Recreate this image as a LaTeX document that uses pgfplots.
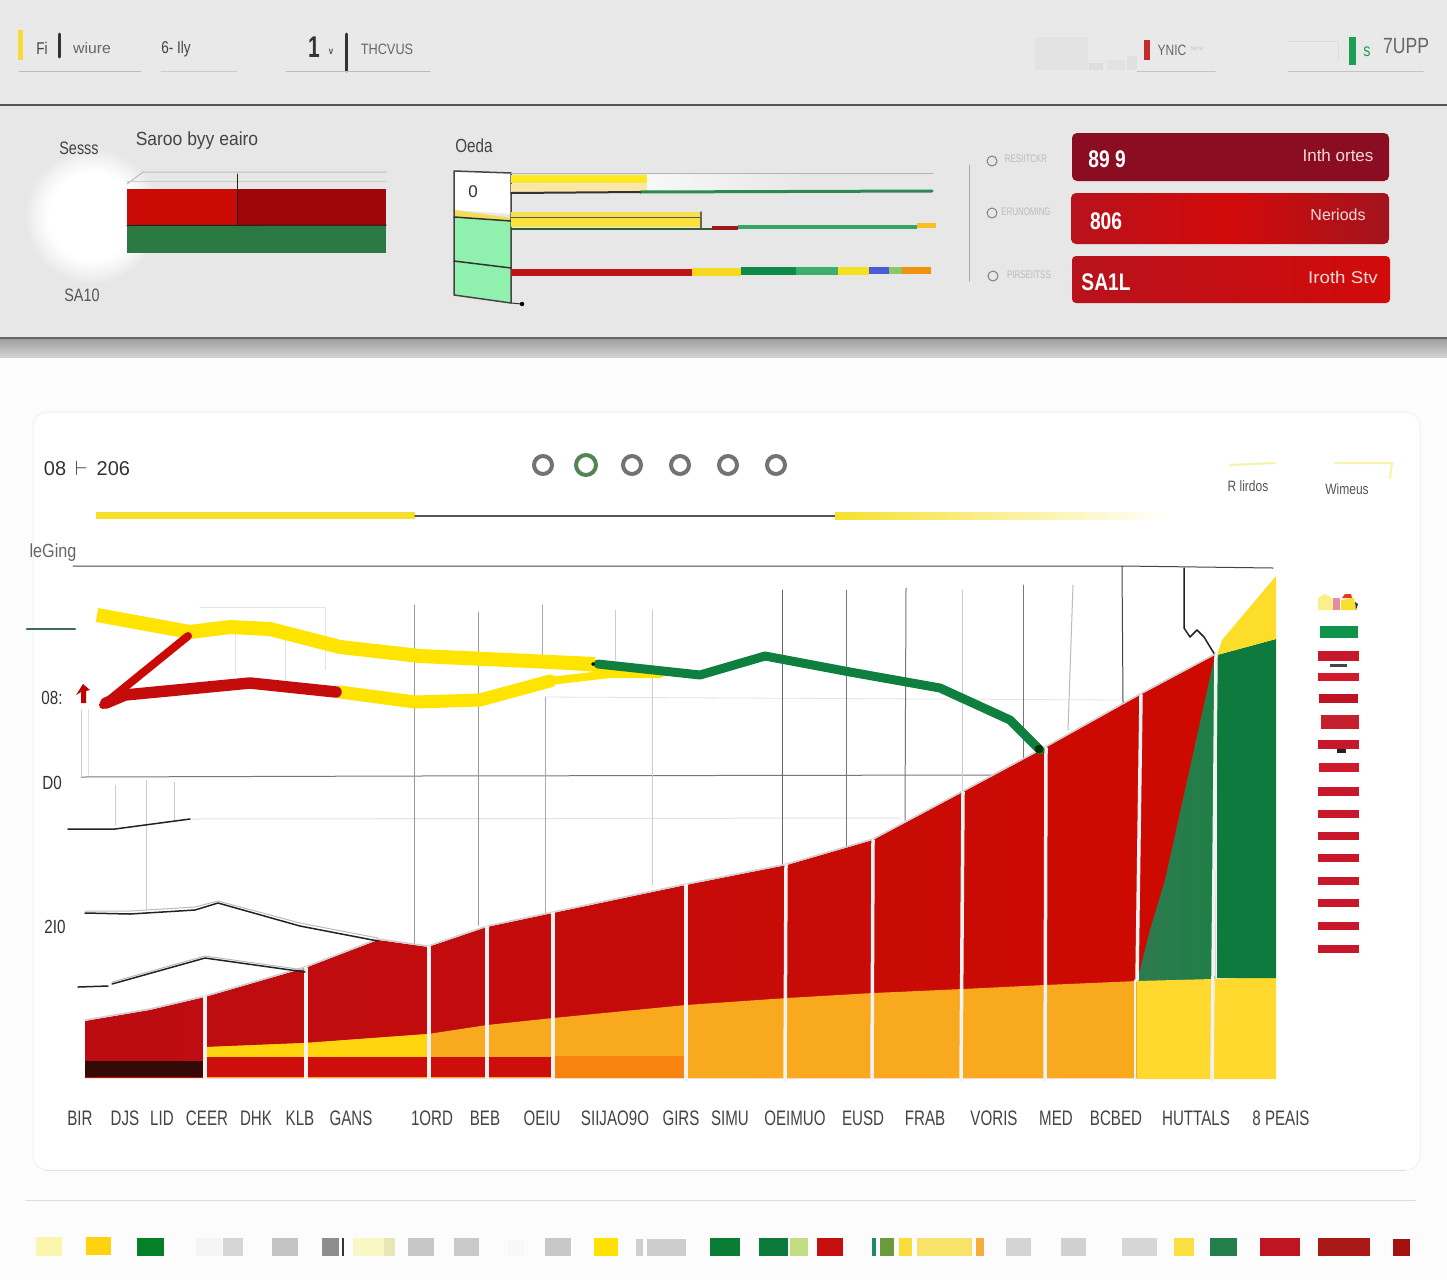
\documentclass[border=0pt]{standalone}
\usepackage{fontspec}
\setmainfont{Liberation Sans}
\usepackage{graphicx}
\usepackage{pgfplots}
\pgfplotsset{compat=1.18}
\definecolor{glowc}{HTML}{E7E7E7}
\pgfdeclareradialshading{glowsh}{\pgfpointorigin}{color(0bp)=(white);color(16bp)=(white);color(21bp)=(white!50!glowc);color(25bp)=(glowc);color(50bp)=(glowc)}
\newcommand{\R}[5]{\definecolor{c#5}{HTML}{#5}\addplot[fill=c#5,draw=none] coordinates {(#1,#2)(#3,#2)(#3,#4)(#1,#4)} --cycle;}
\newcommand{\RG}[6]{\definecolor{l#5}{HTML}{#5}\definecolor{r#6}{HTML}{#6}\addplot[left color=l#5,right color=r#6,draw=none] coordinates {(#1,#2)(#3,#2)(#3,#4)(#1,#4)} --cycle;}
\newcommand{\PG}[2]{\definecolor{c#1}{HTML}{#1}\addplot[fill=c#1,draw=none] coordinates {#2} --cycle;}
\newcommand{\LN}[3]{\definecolor{c#2}{HTML}{#2}\addplot[draw=c#2,line width=#1pt,line cap=round,line join=round] coordinates {#3};}
\newcommand{\T}[6][0.8]{\definecolor{t#4}{HTML}{#4}\node[text=t#4,inner sep=0pt] at (axis cs:#2,#3) {\scalebox{#1}[1]{\fontsize{#5}{#5}\selectfont #6}};}
\begin{document}
\begin{tikzpicture}
\begin{axis}[hide axis,scale only axis,width=1447pt,height=1280pt,
  xmin=0,xmax=1447,ymin=0,ymax=1280,y dir=reverse]
% page and panels
\R{0}{0}{1447}{1280}{FCFCFC}
\R{0}{0}{1447}{105}{E9E9E9}
\R{0}{105}{1447}{338}{E7E7E7}
\definecolor{shA}{HTML}{A0A0A0}\definecolor{shB}{HTML}{D2D2D2}
\addplot[top color=shA,bottom color=shB,draw=none] coordinates {(0,339)(1447,339)(1447,357)(0,357)} --cycle;
\LN{2}{555555}{(0,105)(1447,105)}
\LN{2}{666666}{(0,338)(1447,338)}
% top strip
\R{18}{30}{23}{60}{F7D93A}
\LN{3}{333333}{(59.5,34)(59.5,57)}
\LN{3}{333333}{(346.5,34)(346.5,71)}
\LN{1}{BDBDBD}{(19,71)(141,71)}
\LN{1}{CCCCCC}{(161,71)(237,71)}
\LN{1}{BDBDBD}{(286,71)(430,71)}
\T{42}{48}{444444}{17}{Fi}
\T[1.05]{92}{48}{666666}{15}{wiure}
\T{176}{49}{444444}{17}{6- Ily}
\T[0.7]{314}{47}{333333}{30}{\textbf{1}}
\T{331}{52}{555555}{10}{\textbf{v}}
\T[0.85]{387}{49}{666666}{15}{THCVUS}
\R{1035}{37}{1088}{70}{E3E3E3}
\R{1089}{63}{1103}{70}{DEDEDE}
\R{1107}{60}{1125}{70}{E2E2E2}
\R{1127}{56}{1137}{70}{E0E0E0}
\R{1144}{40}{1150}{60}{C62A2A}
\T{1172}{50}{666666}{15}{YNIC}
\T{1197}{48}{C4C4C4}{6}{Serrie}
\LN{1}{C4C4C4}{(1137,71)(1215,71)}
\LN{1}{DDDDDD}{(1288,41)(1338,41)(1338,60)}
\LN{1}{C4C4C4}{(1288,71)(1423,71)}
\R{1349}{37}{1356}{65}{1E9E55}
\T{1367}{52}{1E9E55}{18}{s}
\T{1406}{46}{666666}{22}{7UPP}
% mini chart 1
\shade[shading=glowsh] (axis cs:92,216) circle[radius=68pt];
\LN{1}{BBBBBB}{(127,184)(143,172)(386,172)}
\LN{1}{CCCCCC}{(127,181)(386,181)}
\R{127}{189}{237}{226}{C90A05}
\R{237}{189}{386}{226}{9E0408}
\R{127}{226}{386}{253}{2B7A44}
\LN{1}{222222}{(237,174)(237,225)}
\LN{1}{222222}{(127,225.5)(386,225)}
\T{79}{148}{444444}{18}{Sesss}
\T[0.92]{197}{141}{444444}{19}{Saroo byy eairo}
\T{82}{295}{555555}{18}{SA10}
% mini chart 2
\T{474}{146}{444444}{19}{Oeda}
\PG{FFFFFF}{(454,171)(511,173)(511,214)(454,210)}
\PG{F4DC56}{(454,210)(511,218)(511,221)(454,217)}
\PG{90F0AE}{(454,217)(511,221)(511,303)(454,295)}
\LN{1.5}{444444}{(454,295)(454,171)(511,173)(511,303)(454,295)}
\LN{1.5}{333333}{(454,217)(511,221)}
\LN{1.5}{333333}{(454,261)(511,268)}
\LN{1}{333333}{(511,303)(522,304)}
\addplot[only marks,mark=*,mark size=2pt,black] coordinates {(522,304)};
\T[1]{473}{192}{333333}{17}{0}
\RG{647}{174}{800}{191}{F8F8F8}{E8E8E8}
\R{511}{175}{647}{183}{FFE81E}
\R{511}{184}{647}{192}{FBE6A6}
\LN{1}{B5B5B5}{(511,173)(933,173)}
\LN{3}{2B8A4F}{(640,192)(932,191)}
\LN{2}{333333}{(511,193)(640,192)}
\R{511}{212}{701}{217}{F7E14A}
\R{511}{218}{700}{227}{FBE23A}
\LN{1}{555555}{(511,217.5)(700,217.5)}
\LN{1.5}{666666}{(701,212)(701,228)}
\LN{2}{2F5F3F}{(511,228.5)(712,228.5)}
\R{712}{225.5}{738}{230}{9A1B1B}
\R{738}{224.5}{917}{229}{37A565}
\R{917}{223}{936}{228}{F7C21E}
\R{511}{269}{692}{276}{BB1414}
\R{692}{268}{741}{276}{F5D921}
\R{741}{267}{796}{275}{0E8A4A}
\R{796}{267}{838}{275}{3DAE6B}
\R{838}{267}{869}{275}{F5E11E}
\R{869}{267}{889}{274}{4C5BD6}
\R{889}{267}{902}{274}{8BC86B}
\R{902}{267}{931}{274}{F0920E}
% KPI list
\LN{1}{AAAAAA}{(969,165)(969,281)}
\addplot[only marks,mark=o,mark size=5pt,mark options={draw=gray,line width=1pt}] coordinates {(992,161)(992,213)(993,276)};
\T[0.72]{1026}{159}{BBBBBB}{11}{RESIITCKR}
\T[0.72]{1026}{212}{BBBBBB}{11}{ERUNOMING}
\T[0.72]{1029}{275}{BBBBBB}{11}{PIRSEIITSS}
\definecolor{ca}{HTML}{8A0D22}\definecolor{cb}{HTML}{B8121C}\definecolor{cc}{HTML}{D20A0A}\definecolor{cd}{HTML}{A3141E}
\addplot[fill=ca,draw=none,rounded corners=5pt] coordinates {(1072,133)(1389,133)(1389,181)(1072,181)} --cycle;
\addplot[left color=cb,right color=cd,middle color=cc,draw=none,rounded corners=5pt] coordinates {(1071,193)(1389,193)(1389,244)(1071,244)} --cycle;
\addplot[left color=cb,right color=cc,draw=none,rounded corners=4pt] coordinates {(1072,256)(1390,256)(1390,303)(1072,303)} --cycle;
\T{1107}{159}{FFFFFF}{24}{\textbf{89 9}}
\T{1106}{221}{FFFFFF}{24}{\textbf{806}}
\T{1106}{282}{FFFFFF}{24}{\textbf{SA1L}}
\T[1]{1338}{155}{F3D9D9}{17}{Inth ortes}
\T[1]{1338}{215}{F3D9D9}{16}{Neriods}
\T[1.1]{1343}{277}{F3D9D9}{17}{Iroth Stv}
% main card
\definecolor{cardb}{HTML}{F1F1F1}
\addplot[draw=cardb,line width=1pt,fill=white,rounded corners=14pt] coordinates {(33,412)(1420,412)(1420,1170)(33,1170)} --cycle;
\LN{1}{E2E2E2}{(45,1170)(1405,1170)}
\LN{1}{DDDDDD}{(26,1200)(1415,1200)}
\T[1]{87}{468}{333333}{20}{08 \,$\vdash$\, 206}
\addplot[only marks,mark=o,mark size=9pt,mark options={draw=black!55,line width=4pt}] coordinates {(543,465)(632,465)(680,465)(728,465)(776,465)};
\addplot[only marks,mark=o,mark size=10pt,mark options={draw=black!45!green!35!gray,line width=4pt}] coordinates {(586,465)};
\LN{2}{F7F3A8}{(1230,465)(1275,463)}
\LN{2}{F7F3A8}{(1335,463)(1392,463)(1390,478)}
\T{1248}{486}{555555}{15}{R lirdos}
\T{1347}{489}{555555}{15}{Wimeus}
\R{96}{511.5}{415}{518.5}{F6E02E}
\LN{1.5}{555555}{(415,516)(835,516)}
\definecolor{ya}{HTML}{F6E02E}
\addplot[left color=ya,right color=white,draw=none] coordinates {(835,512)(1170,512)(1170,519)(835,519)} --cycle;
\T[0.85]{53}{553}{666666}{19}{leGing}
\T{52}{698}{333333}{19}{08:}
\T{52}{783}{333333}{19}{D0}
\T{55}{927}{333333}{19}{2I0}
% gridlines
\LN{1}{444444}{(73,566)(1122,566)(1273,568)}
\LN{1}{777777}{(81,777)(414,776)(1000,775)}
\LN{1}{E2E2E2}{(190,819)(900,818)}
\LN{0.8}{E4E4E4}{(545,697)(1120,700)}
\LN{0.8}{E4E4E4}{(200,607)(325,607)(325,670)}
\LN{0.8}{CCCCCC}{(81,710)(81,777)}
\LN{0.8}{DDDDDD}{(88,710)(88,775)}
\LN{0.8}{CCCCCC}{(115,785)(115,825)}
\LN{0.8}{CCCCCC}{(146,780)(146,910)}
\LN{0.8}{CCCCCC}{(174,782)(174,820)}
\LN{0.8}{E2E2E2}{(235,630)(235,675)}
\LN{0.8}{E2E2E2}{(285,635)(285,680)}
\LN{1}{999999}{(414,605)(414,945)}
\LN{1}{999999}{(478,612)(478,925)}
\LN{1}{AAAAAA}{(542,605)(542,665)}
\LN{1}{AAAAAA}{(545,697)(545,915)}
\LN{1}{CCCCCC}{(615,610)(615,660)}
\LN{1}{CCCCCC}{(652,610)(652,885)}
\LN{1}{666666}{(782,590)(782,865)}
\LN{1}{777777}{(846,590)(846,850)}
\LN{1}{777777}{(906,588)(905,820)}
\LN{1}{CCCCCC}{(962,590)(962,795)}
\LN{1}{777777}{(1023,585)(1023,770)}
\LN{1}{BBBBBB}{(1073,585)(1068,730)}
\LN{1}{444444}{(1122,566)(1123,703)}
\LN{1.5}{222222}{(1184,568)(1184,628)(1190,637)(1197,630)(1204,637)(1215,655)}
% stacked area: upper red
\definecolor{rda}{HTML}{BC0C12}\definecolor{rdb}{HTML}{CE0A00}
\addplot[left color=rda,right color=rdb,draw=none] coordinates {(85,1021)(150,1010)(205,997)(305,968)(378,940)(428,947)(487,927)(553,913)(686,885)(787,865)(873,840)(963,792)(1045,748)(1140,695)(1215,655)(1215,1078)(85,1078)} --cycle;
\definecolor{ga}{HTML}{1F7F46}\definecolor{gb}{HTML}{2F7A50}
\addplot[left color=gb,right color=ga,draw=none] coordinates {(1137,981)(1150,930)(1165,880)(1215,655)(1215,981)} --cycle;
% halo above the red top edge
\LN{1.5}{CFCFCF}{(85,1020)(150,1009)(205,996)(305,967)(378,939)(428,946)(487,926)(553,912)(686,884)(787,864)(873,839)(963,791)(1045,747)(1140,694)(1215,654)}
% amber, yellow, bottom bands
\PG{F9A91E}{(207,1047)(305,1043)(428,1034)(487,1025)(553,1018)(686,1005)(787,998)(873,993)(963,989)(1045,985)(1137,981)(1137,1078)(207,1078)}
\PG{FFD50F}{(207,1047)(305,1043)(428,1034)(428,1057)(207,1057)}
\PG{FFD92E}{(1137,981)(1213,979)(1276,977)(1276,1079)(1137,1079)}
\R{85}{1061}{205}{1077}{330A06}
\R{207}{1057}{553}{1077}{CD0E0A}
\R{553}{1056}{686}{1078}{F8840F}
% last column
\PG{0F7A3E}{(1217,655)(1276,639)(1276,978)(1217,978)}
\PG{FBDD2A}{(1217,655)(1222,640)(1276,576)(1276,639)}
% separators
\LN{3.5}{F2F2F2}{(205,997)(205,1078)}
\LN{3.5}{F2F2F2}{(306,968)(306,1078)}
\LN{3.5}{F2F2F2}{(429,947)(429,1078)}
\LN{3.5}{F2F2F2}{(487,927)(487,1078)}
\LN{3.5}{F2F2F2}{(553,913)(553,1078)}
\LN{3.5}{F2F2F2}{(686,885)(686,1080)}
\LN{3.5}{F2F2F2}{(786,865)(785,1080)}
\LN{3.5}{F2F2F2}{(873,840)(872,1080)}
\LN{3.5}{F2F2F2}{(963,792)(961,1080)}
\LN{3.5}{F2F2F2}{(1046,748)(1045,1080)}
\LN{3.5}{F2F2F2}{(1141,695)(1137,980)}
\LN{2}{F2F2F2}{(1135,980)(1135,1080)}
\LN{3.5}{F2F2F2}{(1216,655)(1212,1080)}
% thin black lines
\LN{1}{BBBBBB}{(85,911)(130,911)(195,907)(218,901)(300,923)(378,938)}
\LN{1.5}{222222}{(85,913)(130,914)(195,910)(218,903)(300,926)(378,941)}
\LN{1}{BBBBBB}{(112,982)(205,956)(305,970)}
\LN{1.5}{222222}{(78,987)(108,986)}
\LN{1.5}{222222}{(112,984)(205,958)(305,972)}
\LN{1.5}{222222}{(68,829)(115,829)(190,819)}
% thick lines
\definecolor{yl}{HTML}{FFE400}
\addplot[draw=yl,line width=14pt,line join=round] coordinates {(97,615)(190,632)(230,627)(270,629)(340,647)(420,656)(595,664)};
\LN{9}{FFE400}{(500,660)(655,672)}
\LN{13}{FFE400}{(340,692)(415,702)(480,700)(550,681)}
\LN{8}{FFE400}{(550,681)(610,674)(660,674)}
\LN{8}{CC0A05}{(188,636)(103,705)}
\LN{11.5}{C40C0C}{(106,703)(125,695)(250,683)(336,692)}
\addplot[fill=red!75!black,draw=none] coordinates {(83,684)(90,690)(86,691)(86,703)(81,703)(81,692)(76,695)} --cycle;
\LN{2.5}{3D6B55}{(27,629)(75,629)}
\LN{9}{0E7F3E}{(598,664)(700,675)(765,656)(850,672)(940,688)(1010,720)(1040,750)}
\addplot[only marks,mark=*,mark size=4pt,color=black!80!green] coordinates {(1039,749)};
\addplot[only marks,mark=*,mark size=1.5pt,black] coordinates {(593,664)};
% right legend
\PG{F9F08A}{(1318,598)(1325,594)(1332,598)(1333,610)(1318,610)}
\PG{E88AA0}{(1333,598)(1340,598)(1340,610)(1333,610)}
\PG{F7E02E}{(1341,600)(1354,598)(1356,610)(1341,610)}
\PG{E43A20}{(1342,598)(1345,594)(1351,594)(1352,598)}
\PG{333333}{(1355,602)(1358,604)(1356,610)}
\R{1320}{626}{1358}{638}{0F934A}
\R{1318}{651}{1359}{661}{C8162A}
\R{1330}{664}{1347}{667}{444444}
\R{1318}{673}{1359}{681}{D0192B}
\R{1319}{694}{1358}{703}{BE1322}
\R{1321}{715}{1359}{729}{C4202E}
\R{1318}{740}{1359}{749}{C8162A}
\R{1337}{749}{1346}{753}{222222}
\R{1319}{763}{1359}{772}{D0192B}
\R{1318}{787}{1359}{796}{C8162A}
\R{1318}{810}{1359}{818}{C8162A}
\R{1318}{832}{1359}{840}{C8162A}
\R{1318}{854}{1359}{862}{C8162A}
\R{1318}{877}{1359}{885}{C8162A}
\R{1318}{899}{1359}{907}{C8162A}
\R{1318}{922}{1359}{930}{C8162A}
\R{1318}{945}{1359}{953}{C8162A}
% tick labels
\T[0.72]{80}{1118}{444444}{21}{BIR}
\T[0.72]{125}{1118}{444444}{21}{DJS}
\T[0.72]{162}{1118}{444444}{21}{LID}
\T[0.72]{207}{1118}{444444}{21}{CEER}
\T[0.72]{256}{1118}{444444}{21}{DHK}
\T[0.72]{300}{1118}{444444}{21}{KLB}
\T[0.72]{351}{1118}{444444}{21}{GANS}
\T[0.72]{432}{1118}{444444}{21}{1ORD}
\T[0.72]{485}{1118}{444444}{21}{BEB}
\T[0.72]{542}{1118}{444444}{21}{OEIU}
\T[0.72]{615}{1118}{444444}{21}{SIIJAO9O}
\T[0.72]{681}{1118}{444444}{21}{GIRS}
\T[0.72]{730}{1118}{444444}{21}{SIMU}
\T[0.72]{795}{1118}{444444}{21}{OEIMUO}
\T[0.72]{863}{1118}{444444}{21}{EUSD}
\T[0.72]{925}{1118}{444444}{21}{FRAB}
\T[0.72]{994}{1118}{444444}{21}{VORIS}
\T[0.72]{1056}{1118}{444444}{21}{MED}
\T[0.72]{1116}{1118}{444444}{21}{BCBED}
\T[0.72]{1196}{1118}{444444}{21}{HUTTALS}
\T[0.72]{1281}{1118}{444444}{21}{8 PEAIS}
% bottom swatches
\R{36}{1237}{62}{1256}{FBF5AE}
\R{86}{1237}{111}{1255}{FFD30F}
\R{137}{1238}{164}{1256}{048029}
\R{196}{1238}{222}{1256}{F5F5F5}
\R{223}{1238}{243}{1256}{D5D5D5}
\R{272}{1238}{298}{1256}{C4C4C4}
\R{322}{1238}{339}{1256}{8E8E8E}
\R{342}{1238}{343.5}{1256}{333333}
\R{353}{1238}{384}{1256}{F9F7C4}
\R{384}{1238}{395}{1256}{E8E6B5}
\R{408}{1238}{434}{1256}{C6C6C6}
\R{454}{1238}{479}{1256}{C9C9C9}
\R{508}{1240}{524}{1256}{F8F8F8}
\R{545}{1238}{571}{1256}{C8C8C8}
\R{594}{1238}{618}{1256}{FFE100}
\R{636}{1239}{643}{1256}{CFCFCF}
\R{647}{1239}{686}{1256}{CDCDCD}
\R{710}{1238}{740}{1256}{0A7D35}
\R{759}{1238}{788}{1256}{0C7A3A}
\R{790}{1238}{808}{1256}{C2DD82}
\R{817}{1238}{843}{1256}{C50F0F}
\R{872}{1238}{876}{1256}{1F8A6A}
\R{880}{1238}{894}{1256}{6B9A3E}
\R{899}{1238}{912}{1256}{FADD3A}
\R{917}{1238}{972}{1256}{F9E26A}
\R{976}{1238}{984}{1256}{F4AE3A}
\R{1006}{1238}{1031}{1256}{D4D4D4}
\R{1061}{1238}{1086}{1256}{D0D0D0}
\R{1122}{1238}{1157}{1256}{D6D6D6}
\R{1174}{1238}{1194}{1256}{FBDF40}
\R{1210}{1238}{1237}{1256}{257F4B}
\R{1260}{1238}{1300}{1256}{BE1622}
\R{1318}{1238}{1370}{1256}{AA1818}
\R{1393}{1239}{1410}{1256}{A31010}
\end{axis}
\end{tikzpicture}
\end{document}
